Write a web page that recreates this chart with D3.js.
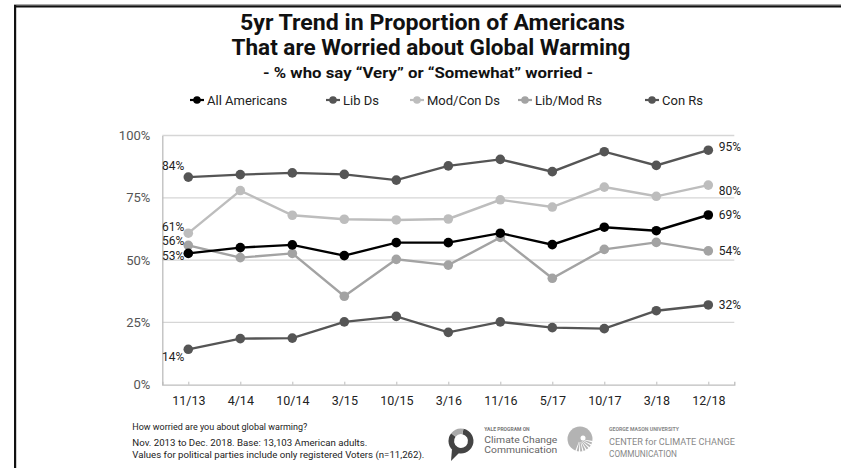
<!DOCTYPE html>
<html><head><meta charset="utf-8">
<script src="https://cdn.jsdelivr.net/npm/d3@7"></script>
<style>body{margin:0;background:#fff}svg{display:block}text{font-family:Roboto,"Noto Sans",sans-serif}</style>
</head><body>
<svg id="chart" width="841" height="468"></svg>
<script>
// ---- data ----
const categories = ["11/13","4/14","10/14","3/15","10/15","3/16","11/16","5/17","10/17","3/18","12/18"];
const allAmericans = [52.7,55.0,56.1,51.8,57.0,57.0,60.8,56.2,63.2,61.8,68.1];
const libDs        = [83.3,84.3,85.0,84.4,82.1,87.8,90.4,85.5,93.5,88.0,94.1];
const modConDs     = [60.8,77.9,68.0,66.4,66.1,66.5,74.2,71.3,79.3,75.6,80.1];
const libModRs     = [55.9,51.0,52.7,35.5,50.3,48.0,59.1,42.7,54.3,57.1,53.7];
const conRs        = [14.2,18.5,18.7,25.2,27.4,21.0,25.2,22.9,22.5,29.7,32.0];
const seriesNames  = ["All Americans","Lib Ds","Mod/Con Ds","Lib/Mod Rs","Con Rs"];
const firstLabels  = ["53%","84%","61%","56%","14%"];
const lastLabels   = ["69%","95%","80%","54%","32%"];
const yTicks = [0,25,50,75,100];

// ---- styles ----
const colors = ["#000000","#555555","#bdbdbd","#a3a3a3","#555555"];
const firstDy = [2,-11,-6.6,-5,7];
const lastDy  = [0,-3,5.7,0,0];
const legendX = [190,326,410,518,645];

const svg = d3.select("#chart");
const series = [allAmericans, libDs, modConDs, libModRs, conRs];

// frame
svg.append("rect").attr("x",14).attr("y",4).attr("width",827).attr("height",1).attr("fill","#aaa");
svg.append("rect").attr("x",14).attr("y",5.3).attr("width",827).attr("height",2.2).attr("fill","#111");
svg.append("rect").attr("x",14).attr("y",5).attr("width",2.2).attr("height",463).attr("fill","#111");

// titles
const title = svg.append("g").attr("font-weight","bold").attr("fill","#111").attr("text-anchor","middle");
title.append("text").attr("x",432.5).attr("y",30).attr("font-size",21.5)
  .attr("textLength",385).attr("lengthAdjust","spacingAndGlyphs").text("5yr Trend in Proportion of Americans");
title.append("text").attr("x",431).attr("y",54.5).attr("font-size",21.5)
  .attr("textLength",399).attr("lengthAdjust","spacingAndGlyphs").text("That are Worried about Global Warming");
title.append("text").attr("x",428).attr("y",78).attr("font-size",14.5)
  .attr("textLength",330).attr("lengthAdjust","spacingAndGlyphs").text("- % who say \u201cVery\u201d or \u201cSomewhat\u201d worried -");

// scales
const x = d3.scalePoint().domain(categories).range([162.3,734.3]).padding(0.5);
const y = d3.scaleLinear().domain([0,100]).range([384.7,135.5]);

// grid
svg.append("g").selectAll("line").data(yTicks.filter(d=>d>0)).join("line")
  .attr("x1",162.3).attr("x2",734.3).attr("y1",d=>y(d)).attr("y2",d=>y(d))
  .attr("stroke","#d6d6d6").attr("stroke-width",1.3);

// y axis
const yAxis = svg.append("g").attr("transform","translate(162.3,0)")
  .call(d3.axisLeft(y).tickValues(yTicks).tickFormat(d=>d+"%").tickSize(0).tickPadding(12));
yAxis.select(".domain").attr("stroke","#bdbdbd").attr("stroke-width",1.3);
yAxis.selectAll("text").attr("font-size",13).attr("fill","#555").attr("font-family","Roboto,sans-serif");

// x axis
const xAxis = svg.append("g").attr("transform","translate(0,384.7)")
  .call(d3.axisBottom(x).tickSizeInner(-3).tickSizeOuter(-3).tickPadding(11));
xAxis.select(".domain").attr("stroke","#bdbdbd").attr("stroke-width",1.3);
xAxis.selectAll(".tick line").attr("stroke","#bdbdbd");
xAxis.selectAll("text").attr("font-size",12.5).attr("fill","#222").attr("font-family","Roboto,sans-serif");

// lines & markers (draw bottom-up so black is on top)
const order = [4,3,2,1,0];
const line = d3.line().x((d,i)=>x(categories[i])).y(d=>y(d));
order.forEach(si=>{
  const g = svg.append("g");
  g.append("path").datum(series[si]).attr("d",line).attr("fill","none")
    .attr("stroke",colors[si]).attr("stroke-width",2.4);
  g.selectAll("circle").data(series[si]).join("circle")
    .attr("cx",(d,i)=>x(categories[i])).attr("cy",d=>y(d)).attr("r",4.8).attr("fill",colors[si]);
});

// end labels
const lab = svg.append("g").attr("font-size",12).attr("fill","#222");
series.forEach((s,si)=>{
  lab.append("text").attr("x",x(categories[0])-4).attr("y",y(s[0])+firstDy[si])
    .attr("dy","0.35em").attr("text-anchor","end").text(firstLabels[si]);
  lab.append("text").attr("x",x(categories[categories.length-1])+10.5).attr("y",y(s[s.length-1])+lastDy[si])
    .attr("dy","0.35em").text(lastLabels[si]);
});

// legend
const leg = svg.append("g");
seriesNames.forEach((n,i)=>{
  const lx = legendX[i];
  leg.append("line").attr("x1",lx).attr("x2",lx+14).attr("y1",100).attr("y2",100)
    .attr("stroke",colors[i]).attr("stroke-width",2.2);
  leg.append("circle").attr("cx",lx+7).attr("cy",100).attr("r",3.8).attr("fill",colors[i]);
  leg.append("text").attr("x",lx+17).attr("y",100).attr("dy","0.35em")
    .attr("font-size",13).attr("fill","#222").text(n);
});

// footnotes
const foot = svg.append("g").attr("font-size",9.8).attr("fill","#222");
foot.append("text").attr("x",132.3).attr("y",429.5).attr("textLength",175).attr("lengthAdjust","spacingAndGlyphs")
  .text("How worried are you about global warming?");
foot.append("text").attr("x",132.3).attr("y",445.5).attr("textLength",235).attr("lengthAdjust","spacingAndGlyphs")
  .text("Nov. 2013 to Dec. 2018. Base: 13,103 American adults.");
foot.append("text").attr("x",132.3).attr("y",457.5).attr("textLength",292).attr("lengthAdjust","spacingAndGlyphs")
  .text("Values for political parties include only registered Voters (n=11,262).");

// Yale logo
const yl = svg.append("g");
const arc = d3.arc();
yl.append("path").attr("transform","translate(461,441)")
  .attr("d",arc({innerRadius:7,outerRadius:12.5,startAngle:0.2,endAngle:Math.PI*2-0.9})).attr("fill","#444");
yl.append("path").attr("transform","translate(461,441)")
  .attr("d",arc({innerRadius:7,outerRadius:12.5,startAngle:-0.9,endAngle:0.2})).attr("fill","#aaa");
yl.append("path").attr("d","M452,449 L451,461 L459,453 Z").attr("fill","#444");
yl.append("text").attr("x",484.3).attr("y",430.5).attr("font-size",5).attr("font-weight","bold").attr("fill","#777").text("YALE PROGRAM ON");
yl.append("text").attr("x",484.3).attr("y",443.3).attr("font-size",9.5).attr("fill","#666")
  .attr("textLength",73).attr("lengthAdjust","spacingAndGlyphs").text("Climate Change");
yl.append("text").attr("x",484.3).attr("y",453.3).attr("font-size",9.5).attr("fill","#666")
  .attr("textLength",73).attr("lengthAdjust","spacingAndGlyphs").text("Communication");

// GMU logo
const gm = svg.append("g").attr("transform","translate(580,439)");
gm.append("circle").attr("r",12.5).attr("fill","#b3b3b3");
d3.range(7).forEach(k=>{
  const a0 = Math.PI*0.55 + k*0.28;
  gm.append("path").attr("d",arc({innerRadius:3,outerRadius:13,startAngle:a0,endAngle:a0+0.11})).attr("fill","#fff");
});
gm.append("circle").attr("cx",3).attr("cy",-1).attr("r",2.5).attr("fill","#fff");
const gt = svg.append("g").attr("fill","#888");
gt.append("text").attr("x",609).attr("y",431).attr("font-size",5.2).attr("font-weight","bold")
  .attr("textLength",70).attr("lengthAdjust","spacingAndGlyphs").text("GEORGE MASON UNIVERSITY");
gt.append("text").attr("x",609).attr("y",444.5).attr("font-size",9.5)
  .attr("textLength",126).attr("lengthAdjust","spacingAndGlyphs").text("CENTER for CLIMATE CHANGE");
gt.append("text").attr("x",609).attr("y",457).attr("font-size",9.5)
  .attr("textLength",68).attr("lengthAdjust","spacingAndGlyphs").text("COMMUNICATION");
</script>
</body></html>
